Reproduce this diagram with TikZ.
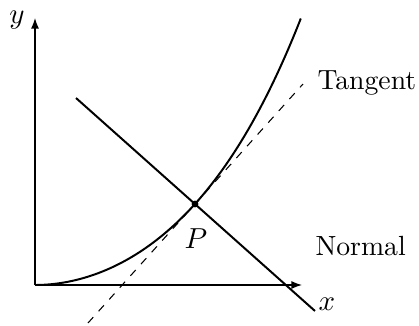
\documentclass[tikz,border=0pt]{standalone}
\usetikzlibrary{arrows.meta,calc}
\begin{document}
\begin{tikzpicture}[x=0.3785pt,y=-0.3785pt,
  font=\fontsize{10.5pt}{12.5pt}\selectfont,
  axis/.style={line width=0.45pt,-{Latex[length=4pt,width=3pt]}},
  curvestyle/.style={line width=0.75pt},
  tangentline/.style={line width=0.4pt,dashed},
  normalline/.style={line width=0.75pt},
  lbl/.style={inner sep=0pt,anchor=base}]
\useasboundingbox (0,0) rectangle (419,326);
\coordinate (O) at (35,285);
\coordinate (XE) at (302,285);
\coordinate (YE) at (35,18);
\draw[axis] (O) -- (XE);
\draw[axis] (O) -- (YE);
\node[lbl] (xl) at (327,310) {$x$};
\node[lbl] (yl) at (17,23) {$y$};
\draw[curvestyle] plot[domain=0:1,samples=80,smooth] ({35+266*\x},{285-267*(0.801*\x*\x-0.143*\x*\x*\x+0.342*\x*\x*\x*\x)});
\coordinate (P) at (195,204);
\coordinate (T1) at ($(P)+(-107,119)$);
\coordinate (T2) at ($(P)+(108,-120)$);
\coordinate (N1) at ($(P)+(-119,-106)$);
\coordinate (N2) at ($(P)+(120,107)$);
\draw[tangentline] (T1) -- (T2);
\draw[normalline] (N1) -- (N2);
\fill (P) circle (1.3pt);
\node[lbl] (pl) at (196,248) {$P$};
\node[lbl,anchor=base west] (tl) at (317,89) {Tangent};
\node[lbl,anchor=base west] (nl) at (315,255) {Normal};
\end{tikzpicture}
\end{document}
